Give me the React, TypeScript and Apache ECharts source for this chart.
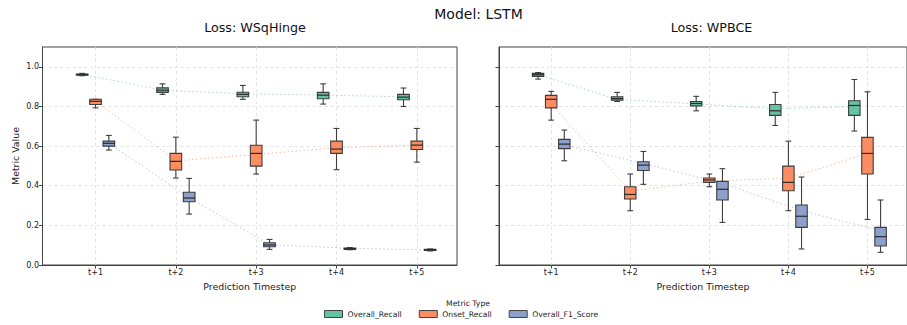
import React, { useEffect, useRef } from "react";
import * as echarts from "echarts";

const categories = ["t+1", "t+2", "t+3", "t+4", "t+5"];
const metrics = ["Overall_Recall", "Onset_Recall", "Overall_F1_Score"];
const colors = ["#66c2a5", "#fc8d62", "#8da0cb"];
const yTicks = [0, 0.2, 0.4, 0.6, 0.8, 1.0];

// [min, q1, median, q3, max] per timestep
const wsqOverallRecall = [
  [0.955, 0.958, 0.961, 0.964, 0.967],
  [0.861, 0.871, 0.882, 0.894, 0.914],
  [0.836, 0.849, 0.861, 0.872, 0.906],
  [0.812, 0.839, 0.857, 0.871, 0.914],
  [0.8, 0.834, 0.847, 0.861, 0.893],
];
const wsqOnsetRecall = [
  [0.793, 0.81, 0.826, 0.836, 0.836],
  [0.439, 0.479, 0.523, 0.563, 0.645],
  [0.459, 0.499, 0.563, 0.604, 0.731],
  [0.481, 0.563, 0.585, 0.625, 0.689],
  [0.519, 0.583, 0.605, 0.625, 0.689],
];
const wsqOverallF1 = [
  [0.58, 0.6, 0.614, 0.625, 0.654],
  [0.257, 0.319, 0.338, 0.367, 0.437],
  [0.079, 0.092, 0.101, 0.112, 0.129],
  [0.077, 0.079, 0.082, 0.085, 0.088],
  [0.071, 0.073, 0.076, 0.079, 0.081],
];
const wpbOverallRecall = [
  [0.938, 0.952, 0.96, 0.967, 0.971],
  [0.825, 0.832, 0.84, 0.849, 0.871],
  [0.778, 0.803, 0.815, 0.825, 0.851],
  [0.704, 0.755, 0.778, 0.81, 0.871],
  [0.676, 0.755, 0.805, 0.829, 0.936],
];
const wpbOnsetRecall = [
  [0.731, 0.793, 0.836, 0.856, 0.876],
  [0.274, 0.333, 0.356, 0.395, 0.459],
  [0.395, 0.417, 0.429, 0.439, 0.459],
  [0.274, 0.375, 0.417, 0.499, 0.625],
  [0.23, 0.459, 0.563, 0.644, 0.874],
];
const wpbOverallF1 = [
  [0.526, 0.587, 0.61, 0.634, 0.681],
  [0.407, 0.477, 0.504, 0.521, 0.573],
  [0.215, 0.328, 0.382, 0.422, 0.486],
  [0.081, 0.19, 0.246, 0.303, 0.444],
  [0.064, 0.096, 0.143, 0.19, 0.328],
];

// mean values (connected by dotted lines)
const wsqMeans = [
  [0.962, 0.882, 0.864, 0.857, 0.849],
  [0.826, 0.526, 0.558, 0.592, 0.605],
  [0.614, 0.34, 0.103, 0.084, 0.076],
];
const wpbMeans = [
  [0.96, 0.836, 0.813, 0.788, 0.8],
  [0.81, 0.373, 0.423, 0.438, 0.563],
  [0.605, 0.513, 0.412, 0.274, 0.173],
];

const panels = [
  { title: "Loss: WSqHinge", boxes: [wsqOverallRecall, wsqOnsetRecall, wsqOverallF1], means: wsqMeans, left: 42.5 },
  { title: "Loss: WPBCE", boxes: [wpbOverallRecall, wpbOnsetRecall, wpbOverallF1], means: wpbMeans, left: 499 },
];

const OFFSETS = [-0.166, 0, 0.166];
const BOX_W = 0.145;
const X_MIN = -0.66;
const X_MAX = 4.5;
const GRID_W = 414.5;

function makeRender(color: string) {
  return (params: any, api: any) => {
    const x = api.value(0);
    const lo = api.coord([x, api.value(1)]);
    const q1 = api.coord([x, api.value(2)]);
    const md = api.coord([x, api.value(3)]);
    const q3 = api.coord([x, api.value(4)]);
    const hi = api.coord([x, api.value(5)]);
    const w = api.size([BOX_W, 0])[0];
    const cap = w * 0.5;
    const cx = lo[0];
    const stroke = "#3d3d3d";
    const ls = { stroke, lineWidth: 1.1 };
    return {
      type: "group",
      children: [
        { type: "line", shape: { x1: cx, y1: hi[1], x2: cx, y2: q3[1] }, style: ls },
        { type: "line", shape: { x1: cx, y1: q1[1], x2: cx, y2: lo[1] }, style: ls },
        { type: "line", shape: { x1: cx - cap / 2, y1: hi[1], x2: cx + cap / 2, y2: hi[1] }, style: ls },
        { type: "line", shape: { x1: cx - cap / 2, y1: lo[1], x2: cx + cap / 2, y2: lo[1] }, style: ls },
        {
          type: "rect",
          shape: { x: cx - w / 2, y: q3[1], width: w, height: Math.max(q1[1] - q3[1], 1) },
          style: { fill: color, stroke, lineWidth: 1.1 },
        },
        { type: "line", shape: { x1: cx - w / 2, y1: md[1], x2: cx + w / 2, y2: md[1] }, style: { stroke: "#2a2a2a", lineWidth: 1.2 } },
      ],
    };
  };
}

export default function App() {
  const ref = useRef<HTMLDivElement>(null);
  useEffect(() => {
    if (!ref.current) return;
    const chart = echarts.init(ref.current, undefined, { renderer: "svg" });
    const font = "DejaVu Sans";
    const grids: any[] = [];
    const xAxes: any[] = [];
    const yAxes: any[] = [];
    const series: any[] = [];
    const titles: any[] = [
      { text: "Model: LSTM", left: 473.5, top: 2, textAlign: "center", textStyle: { fontFamily: font, fontSize: 14, fontWeight: "normal", color: "#111" } },
      { text: "Metric Type", left: 463, top: 294, textAlign: "center", textStyle: { fontFamily: font, fontSize: 7.7, fontWeight: "normal", color: "#222" } },
    ];
    panels.forEach((p, pi) => {
      grids.push({ left: p.left, top: 47, width: GRID_W, height: 218, show: true, borderColor: "#444", borderWidth: 1, backgroundColor: "transparent" });
      titles.push({ text: p.title, left: p.left + 207.5, top: 15.5, textAlign: "center", textStyle: { fontFamily: font, fontSize: 12.7, fontWeight: "normal", color: "#111" } });
      xAxes.push({
        type: "value",
        gridIndex: pi,
        min: X_MIN,
        max: X_MAX,
        name: "Prediction Timestep",
        nameLocation: "middle",
        nameGap: 17,
        nameTextStyle: { fontFamily: font, fontSize: 9.4, color: "#222" },
        axisLine: { show: true, onZero: false, lineStyle: { color: "#444" } },
        axisTick: { show: true, length: 3.5, customValues: [0, 1, 2, 3, 4], lineStyle: { color: "#444" } },
        axisLabel: { customValues: [0, 1, 2, 3, 4], formatter: (v: number) => categories[Math.round(v)] ?? "", fontFamily: font, fontSize: 8, color: "#222", margin: 3.5 },
        splitLine: { show: true, lineStyle: { color: "#dcdcdc", type: [3, 3], width: 0.8 } },
      });
      yAxes.push({
        type: "value",
        gridIndex: pi,
        min: 0,
        max: 1.1,
        name: pi === 0 ? "Metric Value" : "",
        nameLocation: "middle",
        nameGap: 23,
        nameTextStyle: { fontFamily: font, fontSize: 9.4, color: "#222" },
        axisLine: { show: true, onZero: false, lineStyle: { color: "#444" } },
        axisTick: { show: true, length: 3.5, customValues: yTicks, lineStyle: { color: "#444" } },
        axisLabel: { show: pi === 0, customValues: yTicks, formatter: (v: number) => v.toFixed(1), fontFamily: font, fontSize: 8, color: "#222", margin: 3.5 },
        splitLine: { show: true, lineStyle: { color: "#dcdcdc", type: [3, 3], width: 0.8 } },
      });
      metrics.forEach((m, mi) => {
        series.push({
          type: "line",
          name: m + "_mean",
          xAxisIndex: pi,
          yAxisIndex: pi,
          data: p.means[mi].map((v, i) => [i + OFFSETS[mi], v]),
          symbol: "none",
          z: 1,
          lineStyle: { color: colors[mi], width: 1, type: [1.5, 2.5], opacity: 0.6 },
          itemStyle: { color: colors[mi] },
          silent: true,
        });
      });
      metrics.forEach((m, mi) => {
        series.push({
          type: "custom",
          name: m,
          xAxisIndex: pi,
          yAxisIndex: pi,
          z: 3,
          itemStyle: { color: colors[mi] },
          encode: { x: 0, y: [1, 2, 3, 4, 5] },
          data: p.boxes[mi].map((b, i) => [i + OFFSETS[mi], ...b]),
          renderItem: makeRender(colors[mi]),
        });
      });
    });
    chart.setOption({
      animation: false,
      backgroundColor: "#fff",
      title: titles,
      grid: grids,
      xAxis: xAxes,
      yAxis: yAxes,
      legend: {
        data: metrics.map((m, mi) => ({ name: m, icon: "rect", itemStyle: { color: colors[mi], borderColor: "#444", borderWidth: 1 } })),
        left: 319,
        top: 305,
        itemWidth: 18,
        itemHeight: 7,
        itemGap: 17,
        textStyle: { fontFamily: font, fontSize: 7.7, color: "#222" },
      },
      series,
    });
    return () => chart.dispose();
  }, []);
  return <div ref={ref} style={{ position: "fixed", left: 0, top: 0, width: 907, height: 325 }} />;
}
